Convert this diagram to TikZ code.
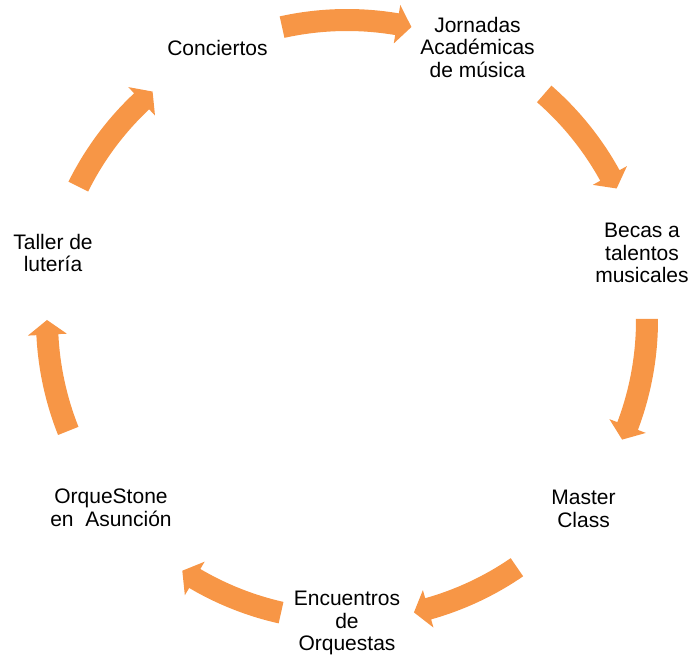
\documentclass[tikz,border=0pt]{standalone}
\usepackage{fontspec}
\setmainfont{Liberation Sans}
\definecolor{arroworange}{RGB}{247,150,70}
\tikzset{
  lbl/.style={align=center, inner sep=0pt, text=black, font=\fontsize{21}{22.5}\selectfont},
  arrowfill/.style={fill=arroworange, draw=none}
}
% curved arrow: start angle, tip angle (clockwise), around the current origin
\newcommand\orarrow[2]{%
  \pgfmathsetmacro\hb{#2+2.8}%
  \fill[arrowfill] (#1:311) arc[start angle=#1, end angle=\hb, radius=311]
    -- (\hb:319.5) -- (#2:300) -- (\hb:280.5) -- (\hb:289)
    arc[start angle=\hb, end angle=#1, radius=289] -- cycle;%
}
\begin{document}
\begin{tikzpicture}[x=1pt,y=1pt]
\useasboundingbox (0,0) rectangle (691,654);
\node[lbl] (conc) at (217.5,606) {Conciertos};
\node[lbl] (jorn) at (477.5,607) {Jornadas\\Académicas\\de música};
\node[lbl] (becas) at (642,401) {Becas a\\talentos\\musicales};
\node[lbl] (master) at (583.5,145) {Master\\Class};
\node[lbl] (encu) at (347,31) {Encuentros\\de\\Orquestas};
\node[lbl] (orq) at (111,146) {OrqueStone\\en\ \ Asunción};
\node[lbl] (taller) at (53,401) {Taller de\\lutería};
\begin{scope}[shift={(347,334)}]
  \orarrow{102.5}{77.6}
  \orarrow{48.9}{26.0}
  \orarrow{0.2}{-23.5}
  \orarrow{-55.5}{-77.1}
  \orarrow{-102.7}{-123.3}
  \orarrow{201.7}{180}
  \orarrow{153.6}{130.4}
\end{scope}
\end{tikzpicture}
\end{document}
